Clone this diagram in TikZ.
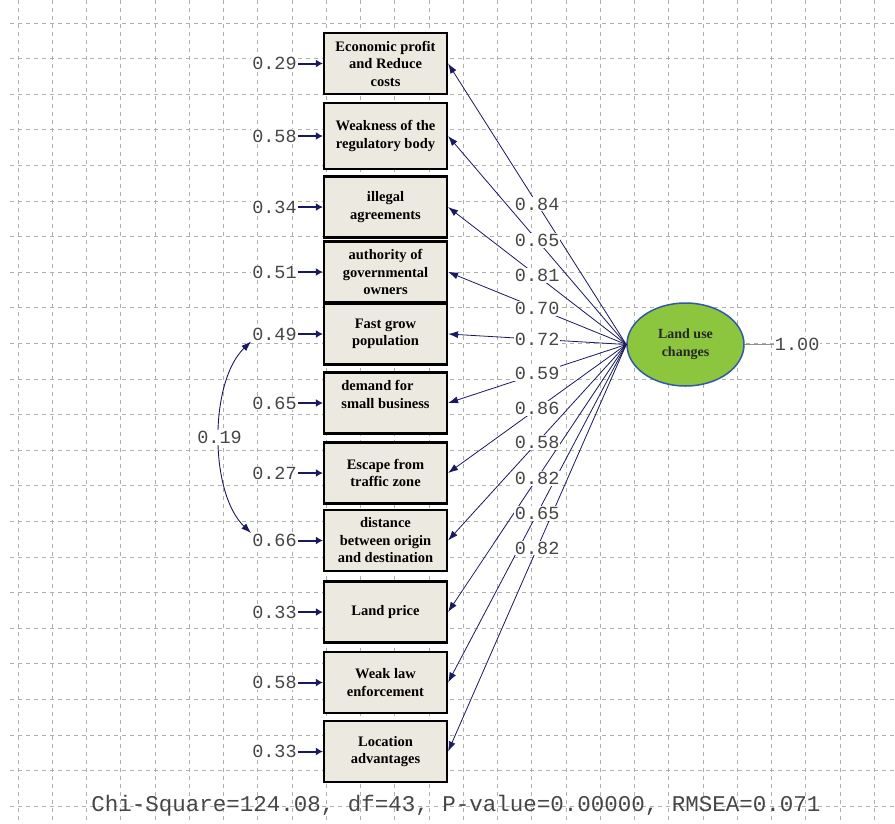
\documentclass[tikz,border=0pt]{standalone}
\usepackage{fontspec}
\setmainfont{Liberation Serif}
\setmonofont{Liberation Mono}
\usepackage{tikz}
\usetikzlibrary{shapes,arrows.meta,positioning}
\definecolor{boxfill}{RGB}{236,234,224}
\definecolor{lvgreen}{RGB}{140,198,63}
\definecolor{lvedge}{RGB}{50,90,160}
\definecolor{pathnavy}{RGB}{25,25,95}
\definecolor{numgray}{RGB}{70,70,70}
\definecolor{gridgray}{RGB}{175,175,175}

\begin{document}
\begin{tikzpicture}[x=1pt, y=-1pt,
    obs/.style={draw, line width=2.2pt, rectangle, fill=boxfill, minimum width=123pt, minimum height=61pt, inner sep=2pt, align=center, font=\bfseries\fontsize{14.5}{17.5}\selectfont},
    num/.style={font=\ttfamily\fontsize{18.5}{19}\selectfont, text=numgray, fill=white, inner sep=1pt},
    gridline/.style={draw=gridgray, line width=0.7pt, dash pattern=on 4pt off 4pt},
    load/.style={draw=pathnavy, line width=0.8pt, -{Latex[length=10pt,width=7pt]}},
    err/.style={draw=pathnavy, line width=2pt, -{Latex[length=7pt,width=8pt]}},
    corr/.style={draw=pathnavy, line width=0.9pt, {Latex[length=10pt,width=7pt]}-{Latex[length=10pt,width=7pt]}}]
    \fill[white] (0,0) rectangle (895,823);
    \useasboundingbox (0,0) rectangle (895,823);
    \foreach \gx in {0,...,25}
        \draw[gridline] (18+34.25*\gx,0) -- (18+34.25*\gx,823);
    \foreach \gy in {0,...,22}
        \draw[gridline] (10,23+35.6*\gy) -- (895,23+35.6*\gy);

    \node[obs] (b1) at (385.5,63.5) {Economic profit\\and Reduce\\costs};
    \node[obs, minimum height=66pt] (b2) at (385.5,136) {Weakness of the\\regulatory body};
    \node[obs] (b3) at (385.5,207) {illegal\\agreements};
    \node[obs] (b4) at (385.5,272) {authority of\\governmental\\owners};
    \node[obs] (b5) at (385.5,334) {Fast grow\\population};
    \node[obs, align=left] (b6) at (385.5,403) {demand for\\small business\\~};
    \node[obs] (b7) at (385.5,473) {Escape from\\traffic zone};
    \node[obs] (b8) at (385.5,540.5) {distance\\between origin\\and destination};
    \node[obs] (b9) at (385.5,612) {Land price};
    \node[obs] (b10) at (385.5,682.5) {Weak law\\enforcement};
    \node[obs] (b11) at (385.5,751.5) {Location\\advantages};

    \node[ellipse, draw=lvedge, line width=1.5pt, fill=lvgreen, minimum width=117pt, minimum height=83pt, align=center, font=\bfseries\fontsize{14}{18}\selectfont, text=black!85] (lu) at (685.5,344.5) {Land use\\changes};
    \node[num, right=29pt of lu] (var) {1.00};
    \draw[numgray!60, line width=0.9pt] (lu.east) -- (var.west);

    \foreach \i/\v in {1/0.29,2/0.58,3/0.34,4/0.51,5/0.49,6/0.65,7/0.27,8/0.66,9/0.33,10/0.58,11/0.33} {
        \node[num, left=25pt of b\i] (e\i) {\v};
        \draw[err] (e\i) -- (b\i);
    }

    \foreach \i in {1,...,11}
        \draw[load] (lu.west) -- (b\i.east);
    \foreach \i/\v in {1/0.84,2/0.65,3/0.81,4/0.70,5/0.72,6/0.59,7/0.86,8/0.58,9/0.82,10/0.65,11/0.82}
        \path (lu.west) -- (b\i.east) node[num, pos=0.5] {\v};

    \draw[corr] (e5.south west) .. controls +(-42,40) and +(-42,-40) .. (e8.north west) node[num, pos=0.5] {0.19};

    \node[font=\ttfamily\fontsize{22.5}{23}\selectfont, text=numgray] (fit) at (456,806) {Chi-Square=124.08, df=43, P-value=0.00000, RMSEA=0.071};
\end{tikzpicture}
\end{document}
